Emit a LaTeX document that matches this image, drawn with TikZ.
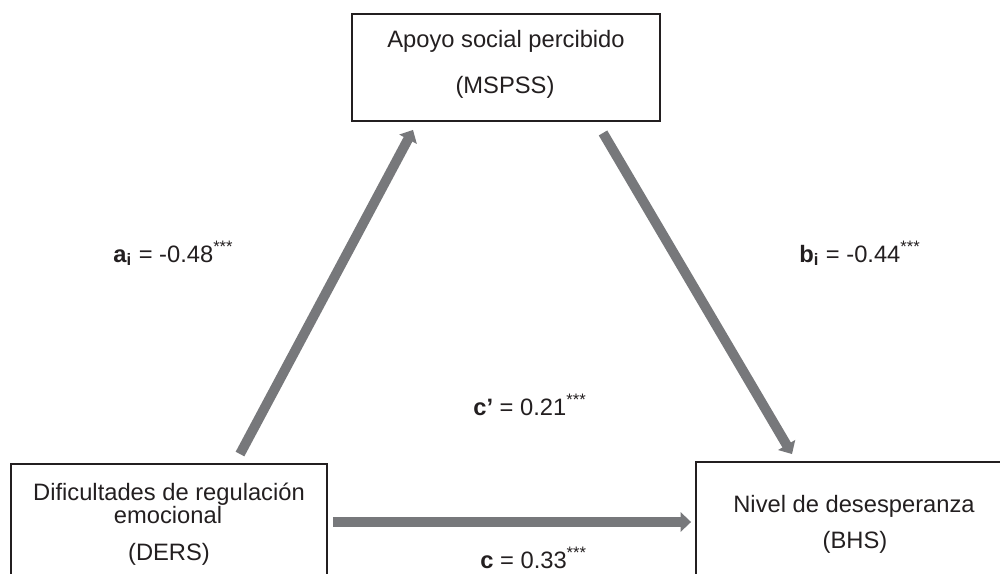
\documentclass[tikz,border=0pt]{standalone}
\usepackage{fontspec}
\setmainfont{Liberation Sans}
\usetikzlibrary{arrows.meta, calc}
\definecolor{ink}{HTML}{231F20}
\definecolor{pathGrey}{HTML}{77787B}
\tikzset{
  varbox/.style  = {draw=ink, line width=1.1pt, minimum width=6.32cm, minimum height=2.6cm, inner sep=0pt},
  txt/.style     = {font=\fontsize{13.5}{16}\selectfont, text=ink, anchor=base, inner sep=0pt},
  coef/.style    = {txt, anchor=base west},
  effect/.style  = {-{Triangle[length=6pt, width=11pt]}, line width=5.6pt, pathGrey},
}
\begin{document}
\begin{tikzpicture}[x=0.02cm, y=-0.02cm]
  \clip (0,0) rectangle (1000,574);
  % variables
  \node[varbox, minimum width=6.16cm, minimum height=2.14cm] (mspss) at (506,67.5) {};
  \node[varbox] (ders) at (169,529) {};
  \node[varbox] (bhs) at (854,527) {};
  \node[txt] (mspss1) at (506,48) {Apoyo social percibido};
  \node[txt] (mspss2) at (505,94) {(MSPSS)};
  \node[txt] (ders1) at (169,500) {Dificultades de regulación};
  \node[txt] (ders2) at (168,523) {emocional};
  \node[txt] (ders3) at (169,560) {(DERS)};
  \node[txt] (bhs1) at (854,512) {Nivel de desesperanza};
  \node[txt] (bhs2) at (855,548) {(BHS)};
  % paths
  \draw[effect] ($(ders.north)+(71,-9)$) -- ($(mspss.south)+(-93,8)$);
  \draw[effect] ($(mspss.south)+(97,11)$) -- ($(bhs.north)+(-62,-7)$);
  \draw[effect] ($(ders.east)+(5,-7)$) -- ($(bhs.west)+(-4,-5)$);
  % coefficients
  \node[coef] (ai) at (113,262) {\textbf{a}\textsubscript{\textbf{i}} = -0.48\textsuperscript{***}};
  \node[coef] (bi) at (799,262) {\textbf{b}\textsubscript{\textbf{i}} = -0.44\textsuperscript{***}};
  \node[coef] (cp) at (473,415) {\textbf{c’} = 0.21\textsuperscript{***}};
  \node[coef] (c) at (480,568) {\textbf{c} = 0.33\textsuperscript{***}};
\end{tikzpicture}
\end{document}
